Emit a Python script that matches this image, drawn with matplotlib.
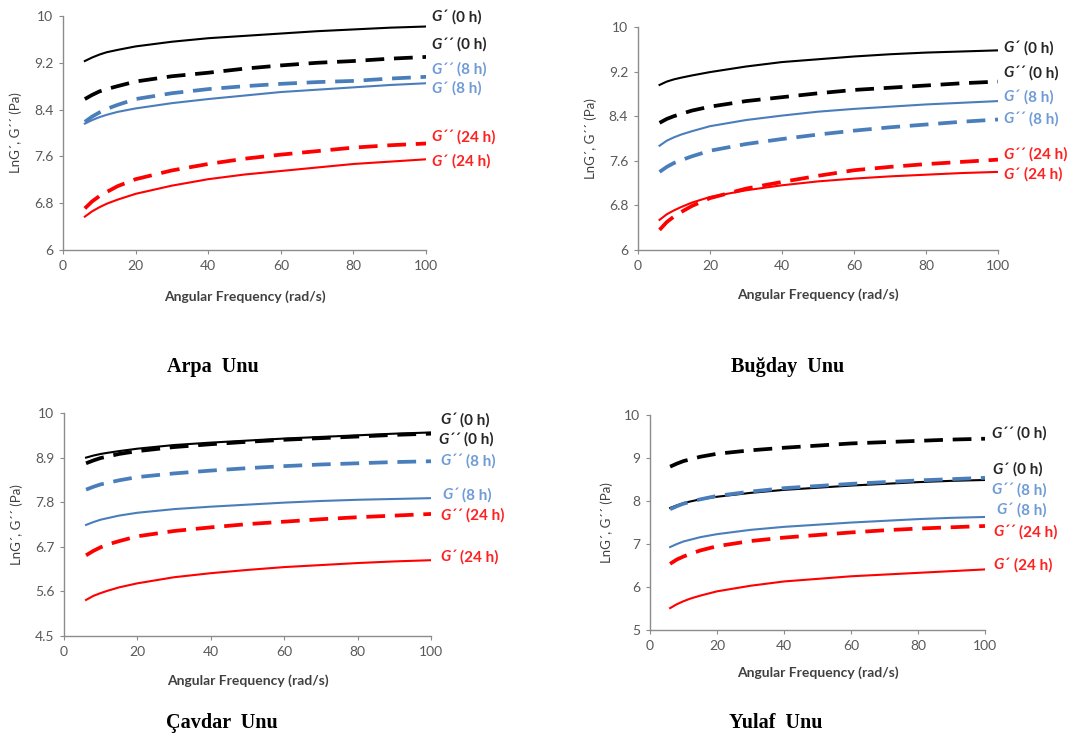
import numpy as np
import matplotlib.pyplot as plt

plt.rcParams['font.family'] = ['Lato', 'DejaVu Sans']

# angular frequency (rad/s)
freq = [6, 8, 10, 12, 15, 20, 30, 40, 50, 60, 70, 80, 90, 100]

# ln G' / ln G'' for each flour at 0, 8 and 24 h
arpa_g1_0 = [9.23, 9.29, 9.34, 9.38, 9.42, 9.48, 9.56, 9.62, 9.66, 9.70, 9.74, 9.77, 9.80, 9.82]
arpa_g2_0 = [8.58, 8.65, 8.71, 8.75, 8.80, 8.88, 8.97, 9.03, 9.10, 9.155, 9.20, 9.23, 9.27, 9.30]
arpa_g1_8 = [8.16, 8.22, 8.27, 8.31, 8.36, 8.42, 8.51, 8.58, 8.64, 8.70, 8.74, 8.78, 8.82, 8.85]
arpa_g2_8 = [8.19, 8.28, 8.35, 8.41, 8.48, 8.58, 8.68, 8.75, 8.80, 8.84, 8.87, 8.89, 8.93, 8.96]
arpa_g1_24 = [6.57, 6.66, 6.73, 6.79, 6.86, 6.96, 7.10, 7.21, 7.29, 7.35, 7.41, 7.47, 7.51, 7.55]
arpa_g2_24 = [6.71, 6.83, 6.92, 6.99, 7.09, 7.21, 7.36, 7.47, 7.56, 7.63, 7.69, 7.75, 7.79, 7.82]

bugday_g1_0 = [8.96, 9.02, 9.06, 9.09, 9.13, 9.19, 9.29, 9.37, 9.42, 9.47, 9.51, 9.54, 9.56, 9.58]
bugday_g2_0 = [8.28, 8.35, 8.40, 8.44, 8.50, 8.57, 8.67, 8.74, 8.81, 8.87, 8.91, 8.95, 8.99, 9.02]
bugday_g1_8 = [7.87, 7.96, 8.02, 8.07, 8.13, 8.22, 8.33, 8.41, 8.48, 8.53, 8.57, 8.61, 8.64, 8.67]
bugday_g2_8 = [7.40, 7.49, 7.56, 7.61, 7.68, 7.78, 7.90, 7.99, 8.07, 8.14, 8.20, 8.25, 8.30, 8.34]
bugday_g1_24 = [6.54, 6.64, 6.71, 6.77, 6.85, 6.95, 7.07, 7.16, 7.23, 7.28, 7.32, 7.35, 7.38, 7.40]
bugday_g2_24 = [6.36, 6.50, 6.60, 6.68, 6.79, 6.93, 7.10, 7.22, 7.33, 7.43, 7.49, 7.54, 7.58, 7.62]

cavdar_g1_0 = [8.90, 8.95, 8.99, 9.02, 9.06, 9.12, 9.21, 9.27, 9.32, 9.37, 9.41, 9.45, 9.49, 9.52]
cavdar_g2_0 = [8.76, 8.83, 8.89, 8.93, 8.99, 9.06, 9.16, 9.23, 9.29, 9.34, 9.38, 9.42, 9.46, 9.49]
cavdar_g1_8 = [7.24, 7.31, 7.37, 7.41, 7.47, 7.54, 7.63, 7.69, 7.74, 7.79, 7.83, 7.86, 7.88, 7.90]
cavdar_g2_8 = [8.11, 8.18, 8.24, 8.28, 8.34, 8.42, 8.51, 8.58, 8.64, 8.69, 8.73, 8.76, 8.79, 8.81]
cavdar_g1_24 = [5.39, 5.49, 5.56, 5.62, 5.70, 5.80, 5.95, 6.05, 6.13, 6.20, 6.25, 6.30, 6.34, 6.37]
cavdar_g2_24 = [6.49, 6.60, 6.69, 6.76, 6.84, 6.96, 7.09, 7.18, 7.26, 7.32, 7.38, 7.43, 7.47, 7.51]

yulaf_g1_0 = [7.84, 7.90, 7.95, 7.99, 8.04, 8.10, 8.19, 8.26, 8.31, 8.36, 8.40, 8.44, 8.47, 8.49]
yulaf_g2_0 = [8.80, 8.87, 8.93, 8.97, 9.03, 9.10, 9.18, 9.24, 9.29, 9.34, 9.37, 9.40, 9.43, 9.45]
yulaf_g1_8 = [6.93, 7.00, 7.06, 7.10, 7.16, 7.23, 7.33, 7.40, 7.45, 7.50, 7.54, 7.58, 7.61, 7.63]
yulaf_g2_8 = [7.81, 7.88, 7.94, 7.98, 8.04, 8.12, 8.22, 8.30, 8.35, 8.40, 8.44, 8.48, 8.51, 8.54]
yulaf_g1_24 = [5.51, 5.60, 5.67, 5.73, 5.80, 5.90, 6.03, 6.13, 6.19, 6.25, 6.29, 6.33, 6.37, 6.41]
yulaf_g2_24 = [6.54, 6.64, 6.71, 6.77, 6.85, 6.95, 7.07, 7.15, 7.21, 7.27, 7.32, 7.36, 7.39, 7.42]

titles = ['Arpa  Unu', 'Buğday  Unu', 'Çavdar  Unu', 'Yulaf  Unu']
yticks = [[6, 6.8, 7.6, 8.4, 9.2, 10], [6, 6.8, 7.6, 8.4, 9.2, 10],
          [4.5, 5.6, 6.7, 7.8, 8.9, 10], [5, 6, 7, 8, 9, 10]]
xticks = [0, 20, 40, 60, 80, 100]

# label y positions: G'(0h), G''(0h), G'(8h), G''(8h), G'(24h), G''(24h)
label_y = [[9.98, 9.51, 8.76, 9.08, 7.51, 7.93],
           [9.62, 9.17, 8.74, 8.35, 7.35, 7.71],
           [9.83, 9.34, 7.98, 8.81, 6.45, 7.47],
           [8.73, 9.57, 7.79, 8.26, 6.51, 7.27]]
label_x = [[101.5] * 6, [101.5] * 6,
           [102.5, 102.0, 103.0, 102.5, 102.5, 102.5],
           [102.3, 101.8, 103.5, 102.0, 102.5, 102.5]]

series = [
    [arpa_g1_0, arpa_g2_0, arpa_g1_8, arpa_g2_8, arpa_g1_24, arpa_g2_24],
    [bugday_g1_0, bugday_g2_0, bugday_g1_8, bugday_g2_8, bugday_g1_24, bugday_g2_24],
    [cavdar_g1_0, cavdar_g2_0, cavdar_g1_8, cavdar_g2_8, cavdar_g1_24, cavdar_g2_24],
    [yulaf_g1_0, yulaf_g2_0, yulaf_g1_8, yulaf_g2_8, yulaf_g1_24, yulaf_g2_24],
]

line_col = ['black', 'black', '#4a7ebb', '#4a7ebb', '#ff0000', '#ff0000']
text_col = ['#262626', '#262626', '#6f9bd6', '#6f9bd6', '#ff2020', '#ff2020']
g_names = ['G´', 'G´´', 'G´', 'G´´', 'G´', 'G´´']
hours = ['(0 h)', '(0 h)', '(8 h)', '(8 h)', '(24 h)', '(24 h)']

# axes boxes in figure fraction
boxes = [[0.0586, 0.6622, 0.3374, 0.3162],
         [0.5929, 0.6622, 0.3346, 0.3014],
         [0.0595, 0.1405, 0.3411, 0.3014],
         [0.6041, 0.1486, 0.3113, 0.2905]]
title_pos = [(0.198, 0.504), (0.732, 0.504), (0.206, 0.023), (0.721, 0.023)]

fig = plt.figure(figsize=(10.76, 7.40), dpi=100)

for i in range(4):
    ax = fig.add_axes(boxes[i])
    for j in range(6):
        if j % 2 == 0:
            ax.plot(freq, series[i][j], color=line_col[j], lw=1.5)
        else:
            ax.plot(freq, series[i][j], color=line_col[j], lw=2.7,
                    dashes=(5, 2.6), dash_capstyle='butt')
        t = ax.text(label_x[i][j], label_y[i][j], g_names[j], color=text_col[j],
                    fontsize=11, fontweight='bold', style='italic',
                    va='center', ha='left', clip_on=False)
        ax.annotate(hours[j], xy=(1, 0.5), xycoords=t, xytext=(3, 0),
                    textcoords='offset points', color=text_col[j],
                    fontsize=11, fontweight='bold', va='center', ha='left')
    ax.set_xlim(0, 100)
    ax.set_ylim(yticks[i][0], yticks[i][-1])
    ax.set_xticks(xticks)
    ax.set_yticks(yticks[i])
    ax.set_yticklabels([('%g' % v) for v in yticks[i]])
    for s in ['top', 'right']:
        ax.spines[s].set_visible(False)
    for s in ['left', 'bottom']:
        ax.spines[s].set_color('#8c8c8c')
        ax.spines[s].set_linewidth(1.0)
    ax.tick_params(direction='out', length=3, color='#8c8c8c',
                   labelsize=10, labelcolor='#595959', pad=4)
    ax.text(0.5, -0.2, 'Angular Frequency (rad/s)', transform=ax.transAxes,
            ha='center', va='center', fontsize=10, fontweight='bold',
            color='#404040')
    ax.text(-0.13, 0.5, 'LnG´, G´´ (Pa)', transform=ax.transAxes,
            rotation=90, ha='center', va='center', fontsize=9.5,
            color='#404040')
    fig.text(title_pos[i][0], title_pos[i][1], titles[i], ha='center',
             va='center', fontsize=14.5, fontweight='bold',
             family='Liberation Serif')

fig.savefig('out.png', dpi=100)
